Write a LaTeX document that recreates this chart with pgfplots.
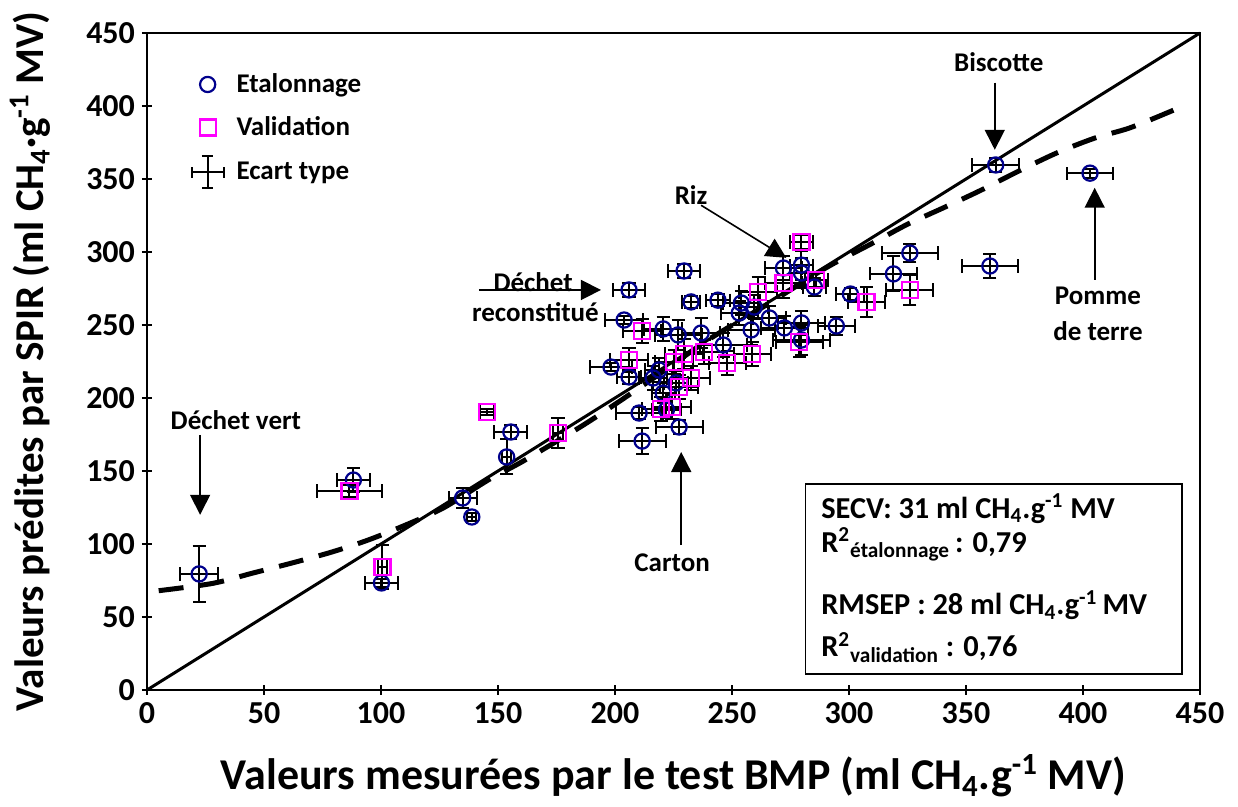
\documentclass[border=0pt]{standalone}
\usepackage{fontspec}
\setmainfont{Carlito}
\usepackage{pgfplots}
\usepackage{pgfplotstable}
\pgfplotsset{compat=1.18}
\usetikzlibrary{arrows.meta}
\definecolor{etal}{RGB}{0,0,140}
\definecolor{valid}{RGB}{255,0,255}

\pgfplotstableread{
x y ex ey
22.3 79.5 8 19
88.2 143.8 7 8
100.2 73.3 7 3
134.9 131.5 6 7
138.8 118.5 2 3
153.7 159.6 2 12
155.5 176.7 7 5
206 274 7 5
229.5 287 7 5
232.5 265.8 4 4
244 267 5 4
203.9 253.4 8 3
220.6 247.3 8 8
227 243.2 10 10
236.8 244.5 8 10
198.3 221.2 9 3
206 214.4 5 5
216.3 213.7 6 8
218.8 219.2 6 8
226.1 210.3 5 8
220.6 203.4 5 7
210.3 189.7 10 4
227.4 180.1 10 5
211.6 170.5 10 9
222 192 6 6
254 265 8 8
253.1 258.2 8 8
259.5 262.3 6 8
266 254.8 7 8
258.2 246.6 10 10
272.4 248 10 8
279.7 251.4 10 8
294.6 249.3 8 6
246.3 236.3 10 8
272 289 8 8
279.7 291 5 10
279.7 285.6 5 10
285.2 276 5 6
300.6 271.2 6 4
319 285 10 12
326 299.3 12 6
360.2 290.4 12 8
362.7 359.6 10 5
403 354 10 3
279.7 239.7 12 10
}\etaltab

\pgfplotstableread{
x y ex ey
86.5 136.3 14 4
100.6 84.2 2 15
145.2 190.4 3 2
175.6 176 2 10
211.6 245.9 8 8
206 226 8 8
225.3 224.7 8 8
229.5 230.1 8 10
238.1 231.5 8 8
248 224 8 8
258.7 230.1 8 8
232.5 213.7 8 8
227.4 207.5 8 8
219.7 192.5 8 8
224.4 193.8 8 8
261.2 272.6 8 10
272 278.8 8 10
286 280.8 5 5
279.7 306.8 5 5
278.8 238.4 10 10
307.5 265.8 8 10
326 274 10 10
}\validtab

\begin{document}
\begin{tikzpicture}
\useasboundingbox (-73.5pt,-58.5pt) rectangle (545.5pt,345pt);
\begin{axis}[
  width=526.5pt, height=328.5pt, scale only axis,
  xmin=0, xmax=450, ymin=0, ymax=450,
  xtick={0,50,...,450}, ytick={0,50,...,450},
  axis line style={line width=1pt},
  tick style={black, line width=0.8pt},
  tick align=center, major tick length=5pt,
  xtick pos=bottom, ytick pos=left,
  ticklabel style={font=\fontsize{16}{18}\selectfont\bfseries},
  /pgf/number format/assume math mode=true,
  xlabel={Valeurs mesurées par le test BMP (ml CH\textsubscript{4}.g\textsuperscript{-1} MV)},
  ylabel={Valeurs prédites par SPIR (ml CH\textsubscript{4}·g\textsuperscript{-1} MV)},
  xlabel style={font=\fontsize{22}{26}\selectfont\bfseries,
    at={(axis description cs:0.5,-0.131)}, anchor=center},
  ylabel style={font=\fontsize{20.5}{24}\selectfont\bfseries,
    at={(axis description cs:-0.111,0.5)}, anchor=center},
  legend style={at={(axis cs:16,428)}, anchor=north west, draw=none, fill=none,
    font=\fontsize{13.5}{16}\selectfont\bfseries, row sep=6.5pt},
  legend cell align=left,
  clip=false,
]
\addplot[only marks, mark=o, mark size=3.8pt, mark options={draw=etal, line width=1.1pt},
  error bars/.cd, x dir=both, x explicit, y dir=both, y explicit,
  error bar style={black, line width=1pt},
  error mark options={rotate=90, black, line width=1pt, mark size=3.3pt}]
  table[x=x, y=y, x error=ex, y error=ey] {\etaltab};
\addlegendentry{\hspace{4pt}Etalonnage}
\addplot[only marks, mark=square, mark size=4pt, mark options={draw=valid, line width=1.1pt},
  error bars/.cd, x dir=both, x explicit, y dir=both, y explicit,
  error bar style={black, line width=1pt},
  error mark options={rotate=90, black, line width=1pt, mark size=3.3pt}]
  table[x=x, y=y, x error=ex, y error=ey] {\validtab};
\addlegendentry{\hspace{4pt}Validation}
\addlegendimage{legend image code/.code={
  \draw[black, line width=0.9pt] (0.02cm,0)--(0.58cm,0) (0.3cm,-0.28cm)--(0.3cm,0.28cm);
  \draw[black, line width=0.9pt] (0.02cm,-0.1cm)--(0.02cm,0.1cm) (0.58cm,-0.1cm)--(0.58cm,0.1cm)
     (0.2cm,0.28cm)--(0.4cm,0.28cm) (0.2cm,-0.28cm)--(0.4cm,-0.28cm);}}
\addlegendentry{\hspace{4pt}Ecart type}

\addplot[black, line width=1.5pt, forget plot] coordinates {(0,0) (450,450)};
\addplot[black, line width=2.5pt, dash pattern=on 12.5pt off 8pt, smooth, forget plot] coordinates {
(5,68) (28,73) (45,80) (62,87) (79,94.5) (95,103) (112,114) (127,125) (146,144) (161,157)
(188,183) (215,212) (240,240) (265,264) (290,289) (310,306) (325,319) (340,330) (356,342)
(372,355) (389,368) (405,378) (420,385) (437,396) (441,399)};

% annotations
\tikzset{ann/.style={font=\fontsize{13.5}{16}\selectfont\bfseries},
  arr/.style={line width=0.8pt, -{Triangle[length=10pt,width=10pt]}}}
\node[ann] at (axis cs:364,430) {Biscotte};
\draw[arr] (axis cs:362.3,416) -- (axis cs:362.3,370);
\node[ann] at (axis cs:232.5,339) {Riz};
\draw[arr] (axis cs:236.8,332) -- (axis cs:273.2,296);
\node[ann] at (axis cs:165,279.5) {Déchet};
\node[ann] at (axis cs:166,259) {reconstitué};
\draw[arr] (axis cs:141.8,274) -- (axis cs:194,274);
\node[ann] at (axis cs:38,185) {Déchet vert};
\draw[arr] (axis cs:22.7,174.7) -- (axis cs:22.7,120);
\node[ann] at (axis cs:224.4,87) {Carton};
\draw[arr] (axis cs:228.3,99.3) -- (axis cs:228.3,163);
\node[ann] at (axis cs:406.4,270) {Pomme};
\node[ann] at (axis cs:406.4,246) {de terre};
\draw[arr] (axis cs:405,281) -- (axis cs:405,344);

% text box
\draw[line width=0.8pt, fill=white] (axis cs:281.4,141) rectangle (axis cs:442.4,11);
\tikzset{box/.style={anchor=base west, inner sep=0pt, font=\fontsize{15.2}{18}\selectfont\bfseries}}
\node[box] at (axis cs:288,117.8) {SECV: 31 ml CH\textsubscript{4}.g\textsuperscript{-1} MV};
\node[box] at (axis cs:288,94.5) {R\textsuperscript{2}\textsubscript{étalonnage}\,: 0,79};
\node[box] at (axis cs:288,51.4) {RMSEP : 28 ml CH\textsubscript{4}.g\textsuperscript{-1}\,MV};
\node[box] at (axis cs:288,22.6) {R\textsuperscript{2}\textsubscript{validation} : 0,76};
\end{axis}
\end{tikzpicture}
\end{document}
